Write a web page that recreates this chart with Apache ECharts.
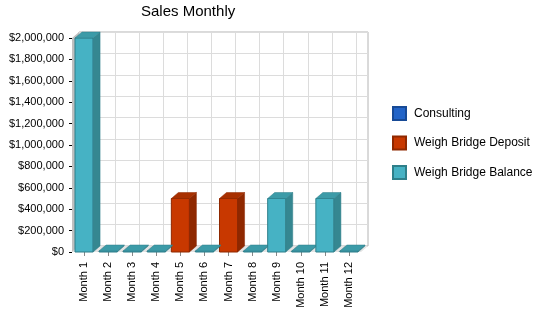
<!DOCTYPE html>
<html>
<head>
<meta charset="utf-8">
<script src="https://cdn.jsdelivr.net/npm/echarts@6/dist/echarts.min.js"></script>
<style>html,body{margin:0;padding:0;background:#fff}#chart{width:550px;height:318px}</style>
</head>
<body>
<div id="chart"></div>
<script>
// data
var months = ['Month 1','Month 2','Month 3','Month 4','Month 5','Month 6','Month 7','Month 8','Month 9','Month 10','Month 11','Month 12'];
var consulting = [0,0,0,0,0,0,0,0,0,0,0,0];
var deposit    = [0,0,0,0,500000,0,500000,0,0,0,0,0];
var balance    = [2000000,0,0,0,0,0,0,0,500000,0,500000,0];
var yTicks = [0,200000,400000,600000,800000,1000000,1200000,1400000,1600000,1800000,2000000];

var DX = 7, DY = -6;
var colors = [
    {front:'#2264C8', side:'#174a96', top:'#1d56ae', edge:'#174a96'},
    {front:'#C83800', side:'#8f2800', top:'#a83000', edge:'#8f2800'},
    {front:'#46B2C4', side:'#358791', top:'#3c9ba8', edge:'#2e7f8a'}
];
var seriesData = [consulting, deposit, balance];
var names = ['Consulting','Weigh Bridge Deposit','Weigh Bridge Balance'];

function fmt(v){
    return '$' + String(v).replace(/\B(?=(\d{3})+(?!\d))/g, ',');
}

function makeRender(si){
    return function(params, api){
        var x = api.value(0), base = api.value(1), v = api.value(2), total = api.value(3);
        var c = colors[si];
        var children = [];
        if (si === 0 && params.dataIndex === 0) {
            // floor + left wall of the box
            var cs = params.coordSys;
            var L = cs.x, R = cs.x + cs.width, B = cs.y + cs.height, T = cs.y;
            children.push({type:'polygon', shape:{points:[[L,B],[L+DX,B+DY],[R+DX,B+DY],[R,B]]}, style:{fill:'#e4e4e4'}, silent:true});
            children.push({type:'polygon', shape:{points:[[L,B],[L+DX,B+DY],[L+DX,T+DY],[L,T]]}, style:{fill:'#c0c0c0'}, silent:true});
        }
        var p0 = api.coord([x, base]);
        var p1 = api.coord([x, base + v]);
        var w = api.size([1, 0])[0] * 0.75;
        var l = p0[0] - w / 2, r = p0[0] + w / 2, yb = p0[1], yt = p1[1];
        if (v === 0) {
            if (!(si === 2 && total === 0)) return children.length ? {type:'group', children:children} : null;
            yt = yb - 1;
            children.push({type:'polygon', shape:{points:[[l-2,yb],[l-2+DX,yb+DY],[r-2+DX,yb+DY],[r-2,yb]]}, style:{fill:'#c8c8c8'}});
        }
        children.push({type:'rect', shape:{x:l, y:yt, width:w, height:yb-yt}, style:{fill:c.front, stroke:c.edge, lineWidth:1}});
        children.push({type:'polygon', shape:{points:[[r,yb],[r+DX,yb+DY],[r+DX,yt+DY],[r,yt]]}, style:{fill:c.side, stroke:c.edge, lineWidth:0.5}});
        children.push({type:'polygon', shape:{points:[[l,yt],[l+DX,yt+DY],[r+DX,yt+DY],[r,yt]]}, style:{fill:c.top, stroke:c.edge, lineWidth:0.5}});
        return {type:'group', children:children};
    };
}

var series = [];
for (var s = 0; s < 3; s++) {
    var rows = [];
    for (var i = 0; i < months.length; i++) {
        var base = 0;
        for (var k = 0; k < s; k++) base += seriesData[k][i];
        rows.push([i, base, seriesData[s][i], consulting[i] + deposit[i] + balance[i]]);
    }
    series.push({
        type:'custom', name:names[s], xAxisIndex:0, yAxisIndex:0,
        renderItem:makeRender(s), data:rows,
        encode:{x:0, y:[1,2]},
        itemStyle:{color:colors[s].front, borderColor:colors[s].edge, borderWidth:1},
        z:5
    });
}

var chart = echarts.init(document.getElementById('chart'), null, {renderer:'canvas'});
chart.setOption({
    animation:false,
    title:{text:'Sales Monthly', left:141, top:4, padding:0, textStyle:{fontFamily:'Liberation Sans, Arial', fontSize:15, fontWeight:'normal', color:'#000'}},
    legend:{
        orient:'vertical', left:392, top:106, padding:0, itemWidth:13, itemHeight:13, itemGap:14.5,
        icon:'rect', data:names,
        textStyle:{fontFamily:'Liberation Sans, Arial', fontSize:12, color:'#000', padding:[0,0,0,3]}
    },
    grid:[
        {left:72, right:189, top:38, bottom:66},
        {left:79, right:182, top:32, bottom:72, show:true, borderColor:'#b4b4b4', borderWidth:1},
        {left:91, right:194, top:32, bottom:72}
    ],
    xAxis:[
        {type:'category', gridIndex:0, data:months,
         axisLine:{show:false},
         axisTick:{show:true, alignWithLabel:true, length:4, lineStyle:{color:'#888'}},
         axisLabel:{rotate:90, margin:10, fontFamily:'Liberation Sans, Arial', fontSize:11, color:'#000'},
         splitLine:{show:false}},
        {type:'category', gridIndex:1, data:months, show:false},
        {type:'category', gridIndex:2, data:months.slice(0,11), axisLine:{show:false}, axisTick:{show:false}, axisLabel:{show:false},
         splitLine:{show:true, interval:0, lineStyle:{color:'#dcdcdc'}}}
    ],
    yAxis:[
        {type:'value', gridIndex:0, min:yTicks[0], max:yTicks[yTicks.length-1], interval:200000,
         axisLine:{show:false},
         axisTick:{show:true, length:3, lineStyle:{color:'#000'}},
         axisLabel:{formatter:fmt, margin:8, fontFamily:'Liberation Sans, Arial', fontSize:11, color:'#000'},
         splitLine:{show:false}},
        {type:'value', gridIndex:1, min:yTicks[0], max:yTicks[yTicks.length-1], interval:200000,
         axisLine:{show:false}, axisTick:{show:false}, axisLabel:{show:false},
         splitLine:{show:true, lineStyle:{color:'#dcdcdc'}}},
        {type:'value', gridIndex:2, min:0, max:2000000, show:false}
    ],
    series:series
});
</script>
</body>
</html>
